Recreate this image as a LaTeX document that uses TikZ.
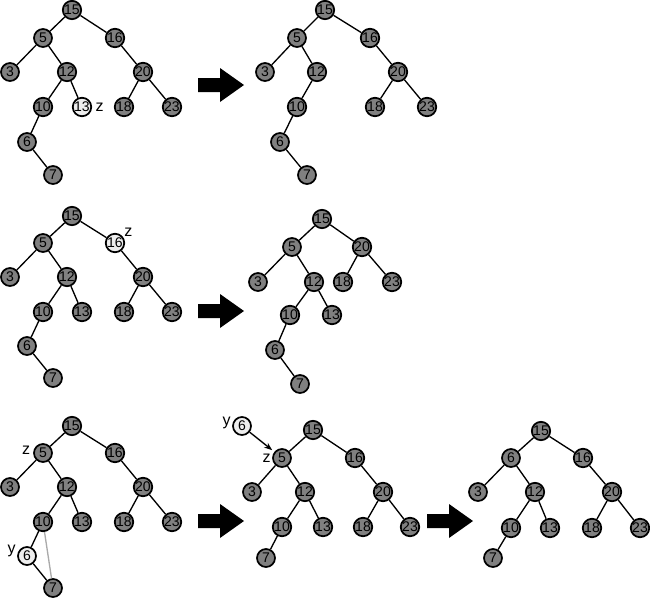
\documentclass[tikz,border=0pt]{standalone}
\usepackage{fontspec}
\setmainfont{Liberation Sans}
\usetikzlibrary{positioning, arrows.meta}

\definecolor{keygray}{RGB}{128,128,128}
\definecolor{keywhite}{RGB}{238,238,238}
\definecolor{linegray}{RGB}{170,170,170}

\begin{document}
\begin{tikzpicture}[x=0.75pt, y=-0.75pt,
key/.style={circle, minimum size=13.5pt, inner sep=0pt, draw=black,
  line width=1.3pt, fill=keygray, font=\fontsize{10.5}{12}\selectfont},
hot/.style={key, fill=keywhite},
lbl/.style={inner sep=0pt, font=\fontsize{12}{12}\selectfont},
edge/.style={line width=1pt}]
\useasboundingbox (0,0) rectangle (650,600);

% tree 1: delete z = 13
\node[key] (a15) at (72,10) {15};
\node[key] (a5) at (43,38) {5};
\node[key] (a16) at (115,38) {16};
\node[key] (a3) at (10,72) {3};
\node[key] (a12) at (67,72) {12};
\node[key] (a20) at (143,72) {20};
\node[key] (a10) at (43,107) {10};
\node[hot] (a13) at (82,107) {13};
\node[key] (a18) at (124,107) {18};
\node[key] (a23) at (172,107) {23};
\node[key] (a6) at (27,142) {6};
\node[key] (a7) at (53,175) {7};
\node[lbl, right=2.5pt of a13] (az) {z};
\draw[edge] (a15) -- (a5) (a15) -- (a16) (a5) -- (a3) (a5) -- (a12);
\draw[edge] (a12) -- (a10) (a12) -- (a13) (a16) -- (a20) (a20) -- (a18);
\draw[edge] (a20) -- (a23) (a10) -- (a6) (a6) -- (a7);

% tree 2
\node[key] (b15) at (325,10) {15};
\node[key] (b5) at (297,38) {5};
\node[key] (b16) at (370,38) {16};
\node[key] (b3) at (265,72) {3};
\node[key] (b12) at (317,72) {12};
\node[key] (b20) at (398,72) {20};
\node[key] (b10) at (297,107) {10};
\node[key] (b18) at (375,107) {18};
\node[key] (b23) at (427,107) {23};
\node[key] (b6) at (280,142) {6};
\node[key] (b7) at (307,175) {7};
\draw[edge] (b15) -- (b5) (b15) -- (b16) (b5) -- (b3) (b5) -- (b12);
\draw[edge] (b12) -- (b10) (b16) -- (b20) (b20) -- (b18) (b20) -- (b23);
\draw[edge] (b10) -- (b6) (b6) -- (b7);

% tree 3: delete z = 16
\node[key] (c15) at (72,216) {15};
\node[key] (c5) at (43,243) {5};
\node[hot] (c16) at (115,243) {16};
\node[key] (c3) at (10,277) {3};
\node[key] (c12) at (67,277) {12};
\node[key] (c20) at (143,277) {20};
\node[key] (c10) at (43,312) {10};
\node[key] (c13) at (82,312) {13};
\node[key] (c18) at (124,312) {18};
\node[key] (c23) at (172,312) {23};
\node[key] (c6) at (27,346) {6};
\node[key] (c7) at (53,378) {7};
\node[lbl, above right=-1pt and 1.5pt of c16] (cz) {z};
\draw[edge] (c15) -- (c5) (c15) -- (c16) (c5) -- (c3) (c5) -- (c12);
\draw[edge] (c12) -- (c10) (c12) -- (c13) (c16) -- (c20) (c20) -- (c18);
\draw[edge] (c20) -- (c23) (c10) -- (c6) (c6) -- (c7);

% tree 4
\node[key] (d15) at (322,219) {15};
\node[key] (d5) at (292,247) {5};
\node[key] (d20) at (362,247) {20};
\node[key] (d3) at (258,282) {3};
\node[key] (d12) at (314,282) {12};
\node[key] (d18) at (343,282) {18};
\node[key] (d23) at (392,282) {23};
\node[key] (d10) at (290,315) {10};
\node[key] (d13) at (332,315) {13};
\node[key] (d6) at (275,350) {6};
\node[key] (d7) at (300,384) {7};
\draw[edge] (d15) -- (d5) (d15) -- (d20) (d5) -- (d3) (d5) -- (d12);
\draw[edge] (d20) -- (d18) (d20) -- (d23) (d12) -- (d10) (d12) -- (d13);
\draw[edge] (d10) -- (d6) (d6) -- (d7);

% tree 5: delete z = 5, successor y = 6
\node[key] (e15) at (72,426) {15};
\node[key] (e5) at (43,453) {5};
\node[key] (e16) at (115,453) {16};
\node[key] (e3) at (10,487) {3};
\node[key] (e12) at (67,487) {12};
\node[key] (e20) at (143,487) {20};
\node[key] (e10) at (43,522) {10};
\node[key] (e13) at (82,522) {13};
\node[key] (e18) at (124,522) {18};
\node[key] (e23) at (172,522) {23};
\node[hot] (e6) at (27,556) {6};
\node[key] (e7) at (53,588) {7};
\node[lbl, left=2pt of e5, yshift=2pt] (ez) {z};
\node[lbl, left=1pt of e6, yshift=4pt] (ey) {y};
\draw[edge] (e15) -- (e5) (e15) -- (e16) (e5) -- (e3) (e5) -- (e12);
\draw[edge] (e12) -- (e10) (e12) -- (e13) (e16) -- (e20) (e20) -- (e18);
\draw[edge] (e20) -- (e23) (e10) -- (e6) (e6) -- (e7);
\draw[edge, linegray] (e10) -- (e7);

% tree 6
\node[hot] (f6) at (242,426) {6};
\node[key] (f15) at (313,430) {15};
\node[key] (f5) at (282,458) {5};
\node[key] (f16) at (355,458) {16};
\node[key] (f3) at (252,492) {3};
\node[key] (f12) at (305,492) {12};
\node[key] (f20) at (383,492) {20};
\node[key] (f10) at (282,527) {10};
\node[key] (f13) at (323,527) {13};
\node[key] (f18) at (363,527) {18};
\node[key] (f23) at (410,527) {23};
\node[key] (f7) at (266,558) {7};
\node[lbl, left=1pt of f6, yshift=2pt] (fy) {y};
\node[lbl, left=1pt of f5] (fz) {z};
\draw[edge] (f15) -- (f5) (f15) -- (f16) (f5) -- (f3) (f5) -- (f12);
\draw[edge] (f12) -- (f10) (f12) -- (f13) (f16) -- (f20) (f20) -- (f18);
\draw[edge] (f20) -- (f23) (f10) -- (f7);
\draw[edge, -{Stealth[length=6pt]}, shorten >=2pt] (f6) -- (f5);

% tree 7
\node[key] (g15) at (541,431) {15};
\node[key] (g6) at (511,458) {6};
\node[key] (g16) at (583,458) {16};
\node[key] (g3) at (478,492) {3};
\node[key] (g12) at (535,492) {12};
\node[key] (g20) at (612,492) {20};
\node[key] (g10) at (511,528) {10};
\node[key] (g13) at (550,528) {13};
\node[key] (g18) at (592,528) {18};
\node[key] (g23) at (640,528) {23};
\node[key] (g7) at (493,558) {7};
\draw[edge] (g15) -- (g6) (g15) -- (g16) (g6) -- (g3) (g6) -- (g12);
\draw[edge] (g12) -- (g10) (g12) -- (g13) (g16) -- (g20) (g20) -- (g18);
\draw[edge] (g20) -- (g23) (g10) -- (g7);

% big arrows between the steps
\foreach \ax/\ay in {198/85, 198/311, 198/521, 427/521}
  \fill (\ax,\ay-7) -- ++(22,0) -- ++(0,-10) -- ++(24,17) -- ++(-24,17)
    -- ++(0,-10) -- ++(-22,0) -- cycle;
\end{tikzpicture}
\end{document}
